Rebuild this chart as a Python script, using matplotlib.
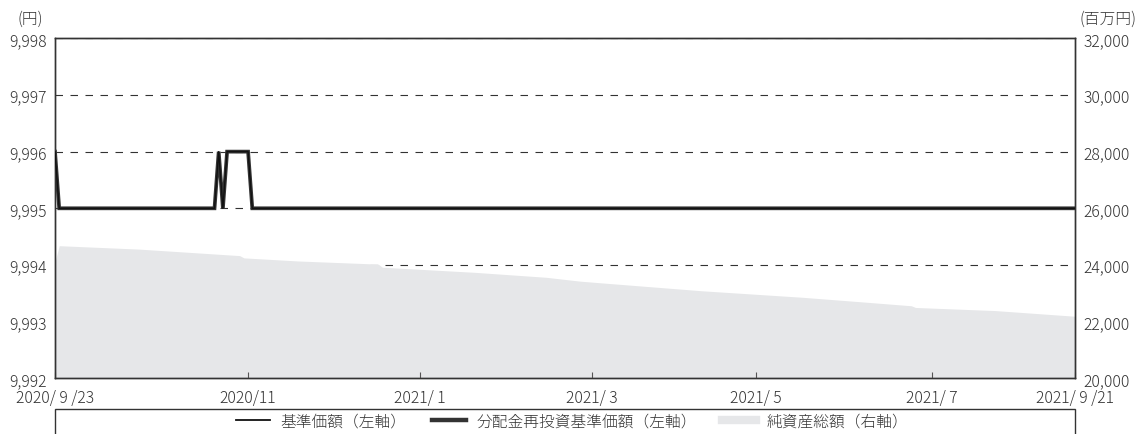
import matplotlib
matplotlib.use('Agg')
import matplotlib.pyplot as plt
from matplotlib.patches import Rectangle
from matplotlib.lines import Line2D

plt.rcParams['font.family'] = ['Noto Sans CJK JP', 'DejaVu Sans']
plt.rcParams['font.weight'] = 'light'
plt.rcParams['lines.scale_dashes'] = False

# ---- data (x = business-day index from 2020/9/23) ----
nav_x = [0, 1, 38, 39, 40, 41, 46, 47, 243]
nav_y = [9996, 9995, 9995, 9996, 9995, 9996, 9996, 9995, 9995]
reinv_y = [9996, 9995, 9995, 9996, 9995, 9996, 9996, 9995, 9995]

assets_x = [0, 1, 20, 44, 45, 58, 77, 78, 100, 117, 125, 130, 154, 178, 192, 204, 205, 224, 243]
assets_y = [24100, 24680, 24560, 24330, 24250, 24140, 24030, 23920, 23740, 23565,
            23430, 23370, 23090, 22860, 22700, 22560, 22500, 22390, 22190]

tick_idx = [0, 46, 87, 128, 167, 209, 243]
tick_labels = ['2020/ 9 /23', '2020/11', '2021/ 1', '2021/ 3', '2021/ 5', '2021/ 7', '2021/ 9 /21']

left_ticks = [9992, 9993, 9994, 9995, 9996, 9997, 9998]
right_ticks = [20000, 22000, 24000, 26000, 28000, 30000, 32000]

legend_labels = ['基準価額（左軸）', '分配金再投資基準価額（左軸）', '純資産総額（右軸）']

# ---- styling ----
W, H = 1148, 435
fig = plt.figure(figsize=(W / 100, H / 100), dpi=100)
L, R, T, B = 55, 1075, 39.3, 379.3
rect = [L / W, 1 - B / H, (R - L) / W, (B - T) / H]

text_c = '#333333'
spine_c = '#333333'
area_c = '#e6e7e9'
fs = 11.3

ax = fig.add_axes(rect)
ax2 = ax.twinx()
ax.set_zorder(3)
ax2.set_zorder(1)
ax.patch.set_visible(False)

# right axis: area + grid
ax2.set_axisbelow(True)
ax2.fill_between(assets_x, 20000, assets_y, color=area_c, linewidth=0, zorder=1)
ax2.set_ylim(right_ticks[0], right_ticks[-1])
ax2.set_yticks(right_ticks)
ax2.set_yticklabels([f'{v:,}' for v in right_ticks])
ax2.yaxis.grid(True, linestyle=(0, (5.4, 5.4)), color='#333333', linewidth=0.8)
ax2.tick_params(axis='y', length=0, pad=6, labelsize=fs, labelcolor=text_c)

# left axis: lines
ax.plot(nav_x, reinv_y, color='#333333', linewidth=2.7, solid_joinstyle='miter', zorder=3)
ax.plot(nav_x, nav_y, color='#111111', linewidth=1.0, zorder=4)
ax.set_ylim(left_ticks[0], left_ticks[-1])
ax.set_yticks(left_ticks)
ax.set_yticklabels([f'{v:,}' for v in left_ticks])
ax.tick_params(axis='y', length=0, pad=6, labelsize=fs, labelcolor=text_c)

ax.set_xlim(tick_idx[0], tick_idx[-1])
ax.set_xticks(tick_idx)
ax.set_xticklabels(tick_labels)
ax.tick_params(axis='x', direction='in', length=4, width=0.8, color='#555555',
               pad=8, labelsize=fs, labelcolor=text_c)
ax2.tick_params(axis='x', length=0)

for a in (ax, ax2):
    for s in a.spines.values():
        s.set_color(spine_c)
        s.set_linewidth(1.0)

# unit labels
fig.text(30 / W, 1 - 19 / H, '(円)', ha='center', va='center', fontsize=fs, color=text_c)
fig.text(1108 / W, 1 - 19 / H, '(百万円)', ha='center', va='center', fontsize=fs, color=text_c)

# legend box
fig.patches.append(Rectangle((L / W, -0.2), (R - L) / W, 0.2 + (1 - 410 / H),
                             transform=fig.transFigure, fill=False,
                             edgecolor=spine_c, linewidth=1.0, clip_on=False))
handles = [Line2D([], [], color='#111111', linewidth=1.3),
           Line2D([], [], color='#333333', linewidth=3.2),
           Line2D([], [], color=area_c, linewidth=6)]
fig.legend(handles, legend_labels, loc='center', bbox_to_anchor=(572 / W, 1 - 422 / H),
           ncol=3, frameon=False, fontsize=fs, handlelength=2.2, handletextpad=0.65,
           columnspacing=1.6, labelcolor=text_c, borderpad=0)

fig.savefig('out.png', dpi=100)
